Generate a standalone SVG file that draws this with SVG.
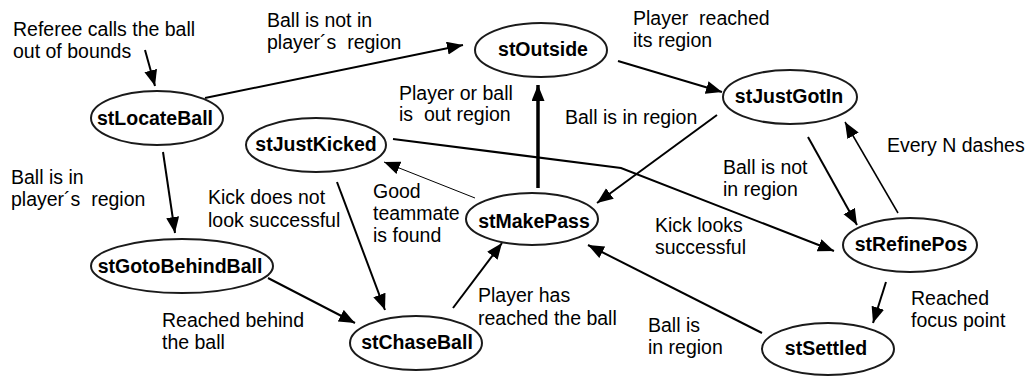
<svg xmlns="http://www.w3.org/2000/svg" width="1029" height="376" viewBox="0 0 1029 376">
<defs>
<marker id="ah" markerUnits="userSpaceOnUse" markerWidth="17" markerHeight="14" refX="16" refY="6.5" orient="auto">
<path d="M0,0 L16,6.5 L0,13 z" fill="#000"/>
</marker>
<style>
.node ellipse{fill:#fff;stroke:#1a1a1a;stroke-width:2}
.node text{font-family:"Liberation Sans",Arial,sans-serif;font-weight:bold;font-size:19.5px;text-anchor:middle;fill:#000}
.lbl{font-family:"Liberation Sans",Arial,sans-serif;font-size:19.5px;fill:#000}
.e{fill:none;stroke:#000;stroke-width:2;marker-end:url(#ah)}
</style>
</defs>
<rect width="1029" height="376" fill="#fff"/>
<g id="connectors">
<path class="e" d="M145,50 L155,86"/>
<path class="e" d="M205,98 L463,45"/>
<path class="e" d="M618,61 L722,92"/>
<path class="e" d="M717,115 L597,203"/>
<path class="e" d="M538,188 L538,85" style="stroke-width:3.5"/>
<path class="e" d="M475,198 L384,162" style="stroke-width:1"/>
<path class="e" d="M393,139 L621,168 L834,251"/>
<path class="e" d="M337,182 L385,310"/>
<path class="e" d="M163,152 L175,233"/>
<path class="e" d="M268,278 L355,323"/>
<path class="e" d="M453,308 L502,243"/>
<path class="e" d="M762,333 L588,245"/>
<path class="e" d="M808,137 L857,225"/>
<path class="e" d="M898,213 L845,122" style="stroke-width:1.5"/>
<path class="e" d="M886,282 L873,323"/>
</g>
<g id="stOutside" class="node"><ellipse cx="541" cy="50" rx="66" ry="27"/><text x="543" y="56">stOutside</text></g>
<g id="stJustGotIn" class="node"><ellipse cx="790" cy="97" rx="67" ry="27"/><text x="789" y="103">stJustGotIn</text></g>
<g id="stLocateBall" class="node"><ellipse cx="157" cy="118" rx="66" ry="27"/><text x="155" y="125">stLocateBall</text></g>
<g id="stJustKicked" class="node"><ellipse cx="316" cy="145" rx="70" ry="27"/><text x="316" y="151">stJustKicked</text></g>
<g id="stGotoBehindBall" class="node"><ellipse cx="182" cy="266" rx="91" ry="27"/><text x="180" y="273">stGotoBehindBall</text></g>
<g id="stMakePass" class="node"><ellipse cx="532" cy="219" rx="66" ry="26"/><text x="534" y="228">stMakePass</text></g>
<g id="stChaseBall" class="node"><ellipse cx="416" cy="343" rx="66" ry="27"/><text x="417" y="349">stChaseBall</text></g>
<g id="stRefinePos" class="node"><ellipse cx="910" cy="245" rx="67" ry="27"/><text x="911" y="251">stRefinePos</text></g>
<g id="stSettled" class="node"><ellipse cx="828" cy="349" rx="66" ry="26"/><text x="826" y="355">stSettled</text></g>
<g id="labels">
<text class="lbl" x="13" y="36">Referee calls the ball</text>
<text class="lbl" x="13" y="58">out of bounds</text>
<text class="lbl" x="267" y="27">Ball is not in</text>
<text class="lbl" x="267" y="49" xml:space="preserve">player´s  region</text>
<text class="lbl" x="633" y="25" xml:space="preserve">Player  reached</text>
<text class="lbl" x="633" y="47">its region</text>
<text class="lbl" x="399" y="100">Player or ball</text>
<text class="lbl" x="399" y="121" xml:space="preserve">is  out region</text>
<text class="lbl" x="565" y="124">Ball is in region</text>
<text class="lbl" x="11" y="184">Ball is in</text>
<text class="lbl" x="11" y="206" xml:space="preserve">player´s  region</text>
<text class="lbl" x="208" y="204">Kick does not</text>
<text class="lbl" x="208" y="227">look successful</text>
<text class="lbl" x="373" y="198">Good</text>
<text class="lbl" x="373" y="220">teammate</text>
<text class="lbl" x="373" y="242">is found</text>
<text class="lbl" x="723" y="174">Ball is not</text>
<text class="lbl" x="723" y="196">in region</text>
<text class="lbl" x="887" y="152">Every N dashes</text>
<text class="lbl" x="655" y="232">Kick looks</text>
<text class="lbl" x="655" y="254">successful</text>
<text class="lbl" x="162" y="327">Reached behind</text>
<text class="lbl" x="162" y="349">the ball</text>
<text class="lbl" x="478" y="302">Player has</text>
<text class="lbl" x="478" y="325">reached the ball</text>
<text class="lbl" x="648" y="332">Ball is</text>
<text class="lbl" x="648" y="354">in region</text>
<text class="lbl" x="911" y="305">Reached</text>
<text class="lbl" x="911" y="327">focus point</text>
</g>
</svg>
